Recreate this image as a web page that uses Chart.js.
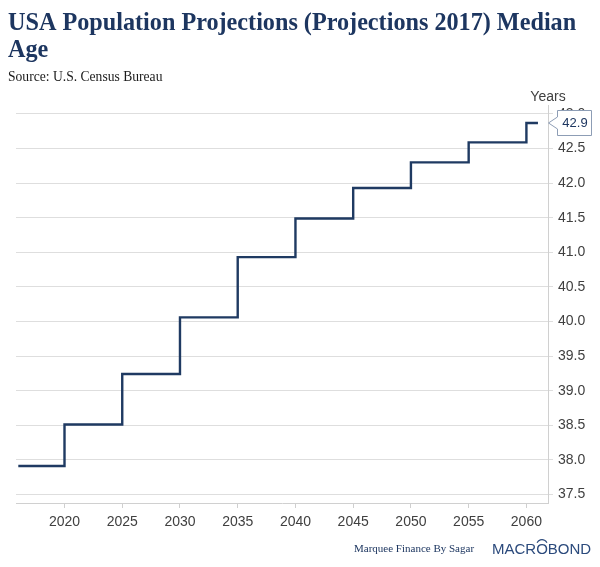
<!DOCTYPE html>
<html>
<head>
<meta charset="utf-8">
<script src="https://cdn.jsdelivr.net/npm/chart.js@4"></script>
<style>
  html, body { margin: 0; padding: 0; background: #ffffff; }
  #wrap { position: relative; width: 600px; height: 567px; }
  canvas { display: block; }
</style>
</head>
<body>
<div id="wrap"><canvas id="c" width="600" height="567"></canvas></div>
<script>
// ---- data ----
const periodStartYears = [2016, 2020, 2025, 2030, 2035, 2040, 2045, 2050, 2055, 2060];
const medianAge = [37.91, 38.51, 39.24, 40.06, 40.93, 41.49, 41.93, 42.30, 42.59, 42.87];
const lastPeriodEnd = 2061;
const titleLines = ['USA Population Projections (Projections 2017) Median', 'Age'];
const subtitleText = 'Source: U.S. Census Bureau';
const unitLabel = 'Years';
const lastValueLabel = '42.9';
const footerCredit = 'Marquee Finance By Sagar';
const footerBrand = 'MACROBOND';

const NAVY = '#1d3660';
const LINE = '#1f3a62';
const GRID = '#dedede';
const TICKTXT = '#404040';

const points = periodStartYears.map((x, i) => ({ x: x, y: medianAge[i] }));
points.push({ x: lastPeriodEnd, y: medianAge[medianAge.length - 1] });

const overlayPlugin = {
  id: 'overlay',
  afterDraw(chart) {
    const ctx = chart.ctx;
    const yScale = chart.scales.y;
    const xScale = chart.scales.x;
    ctx.save();
    ctx.textBaseline = 'alphabetic';
    ctx.textAlign = 'left';
    // title
    ctx.font = 'bold 24.2px "Liberation Serif", "Times New Roman", serif';
    ctx.fillStyle = NAVY;
    ctx.fillText(titleLines[0], 8, 30);
    ctx.fillText(titleLines[1], 8, 56.7);
    // subtitle
    ctx.font = '13.6px "Liberation Serif", "Times New Roman", serif';
    ctx.fillStyle = '#1a1a1a';
    ctx.fillText(subtitleText, 8, 81);

    // "Years" unit label above right axis
    ctx.font = '14px "Liberation Sans", Arial, sans-serif';
    ctx.fillStyle = TICKTXT;
    ctx.textAlign = 'center';
    ctx.fillText(unitLabel, xScale.right, 101);

    // last value callout box
    const ly = yScale.getPixelForValue(medianAge[medianAge.length - 1]);
    const tipX = xScale.right + 0.5;
    const bx = 557.5, bw = 34, bt = 110.5, bb = 135.5;
    ctx.beginPath();
    ctx.moveTo(tipX, ly);
    ctx.lineTo(bx, ly - 6);
    ctx.lineTo(bx, bt);
    ctx.lineTo(bx + bw, bt);
    ctx.lineTo(bx + bw, bb);
    ctx.lineTo(bx, bb);
    ctx.lineTo(bx, ly + 6);
    ctx.closePath();
    ctx.fillStyle = '#ffffff';
    ctx.fill();
    ctx.strokeStyle = '#8d9db5';
    ctx.lineWidth = 1;
    ctx.stroke();
    ctx.font = '13px "Liberation Sans", Arial, sans-serif';
    ctx.fillStyle = NAVY;
    ctx.textAlign = 'center';
    ctx.textBaseline = 'middle';
    ctx.fillText(lastValueLabel, bx + bw / 2 + 0.5, (bt + bb) / 2 + 0.5);

    // footer
    ctx.textBaseline = 'alphabetic';
    ctx.textAlign = 'left';
    ctx.font = '11px "Liberation Serif", "Times New Roman", serif';
    ctx.fillStyle = NAVY;
    ctx.fillText(footerCredit, 354, 552);
    ctx.font = '15px "Liberation Sans", Arial, sans-serif';
    ctx.fillStyle = '#2b4a7c';
    const brandX = 492, brandY = 554;
    ctx.fillText(footerBrand, brandX, brandY);
    // small ring accent over the second "O" of the brand mark
    const pre = ctx.measureText('MACR').width;
    const ow = ctx.measureText('O').width;
    const cx = brandX + pre + ow / 2;
    const cy = brandY - 8.8;
    ctx.beginPath();
    ctx.arc(cx, cy, ow / 2 - 0.3, Math.PI * 1.15, Math.PI * 1.85);
    ctx.strokeStyle = '#2b4a7c';
    ctx.lineWidth = 1.2;
    ctx.stroke();
    ctx.restore();
  }
};

new Chart(document.getElementById('c'), {
  type: 'line',
  data: {
    datasets: [{
      data: points,
      borderColor: LINE,
      borderWidth: 2.4,
      stepped: true,
      pointRadius: 0,
      pointHoverRadius: 0,
      fill: false
    }]
  },
  options: {
    responsive: false,
    animation: false,
    devicePixelRatio: 1,
    layout: { padding: { left: 16, right: 0, top: 105, bottom: 0 } },
    plugins: {
      legend: { display: false },
      tooltip: { enabled: false },
      title: { display: false },
      subtitle: { display: false }
    },
    scales: {
      x: {
        type: 'linear',
        min: 2015.8,
        max: 2061.87,
        afterFit(s) { s.height = 64; },
        grid: { display: true, drawOnChartArea: false, drawTicks: true, tickLength: 5, color: '#cfcfcf' },
        border: { display: true, color: '#d0d0d0' },
        ticks: {
          stepSize: 5,
          includeBounds: false,
          color: TICKTXT,
          font: { family: '"Liberation Sans", Arial, sans-serif', size: 14 },
          padding: 6,
          maxRotation: 0,
          callback: v => String(v)
        }
      },
      y: {
        type: 'linear',
        position: 'right',
        min: 37.376,
        max: 43.13,
        afterFit(s) { s.width = 52; },
        grid: { color: GRID, tickLength: 5, drawTicks: true },
        border: { display: true, color: '#d0d0d0' },
        ticks: {
          stepSize: 0.5,
          includeBounds: false,
          color: TICKTXT,
          font: { family: '"Liberation Sans", Arial, sans-serif', size: 14 },
          padding: 5,
          callback: v => v.toFixed(1)
        }
      }
    }
  },
  plugins: [overlayPlugin]
});
</script>
</body>
</html>
